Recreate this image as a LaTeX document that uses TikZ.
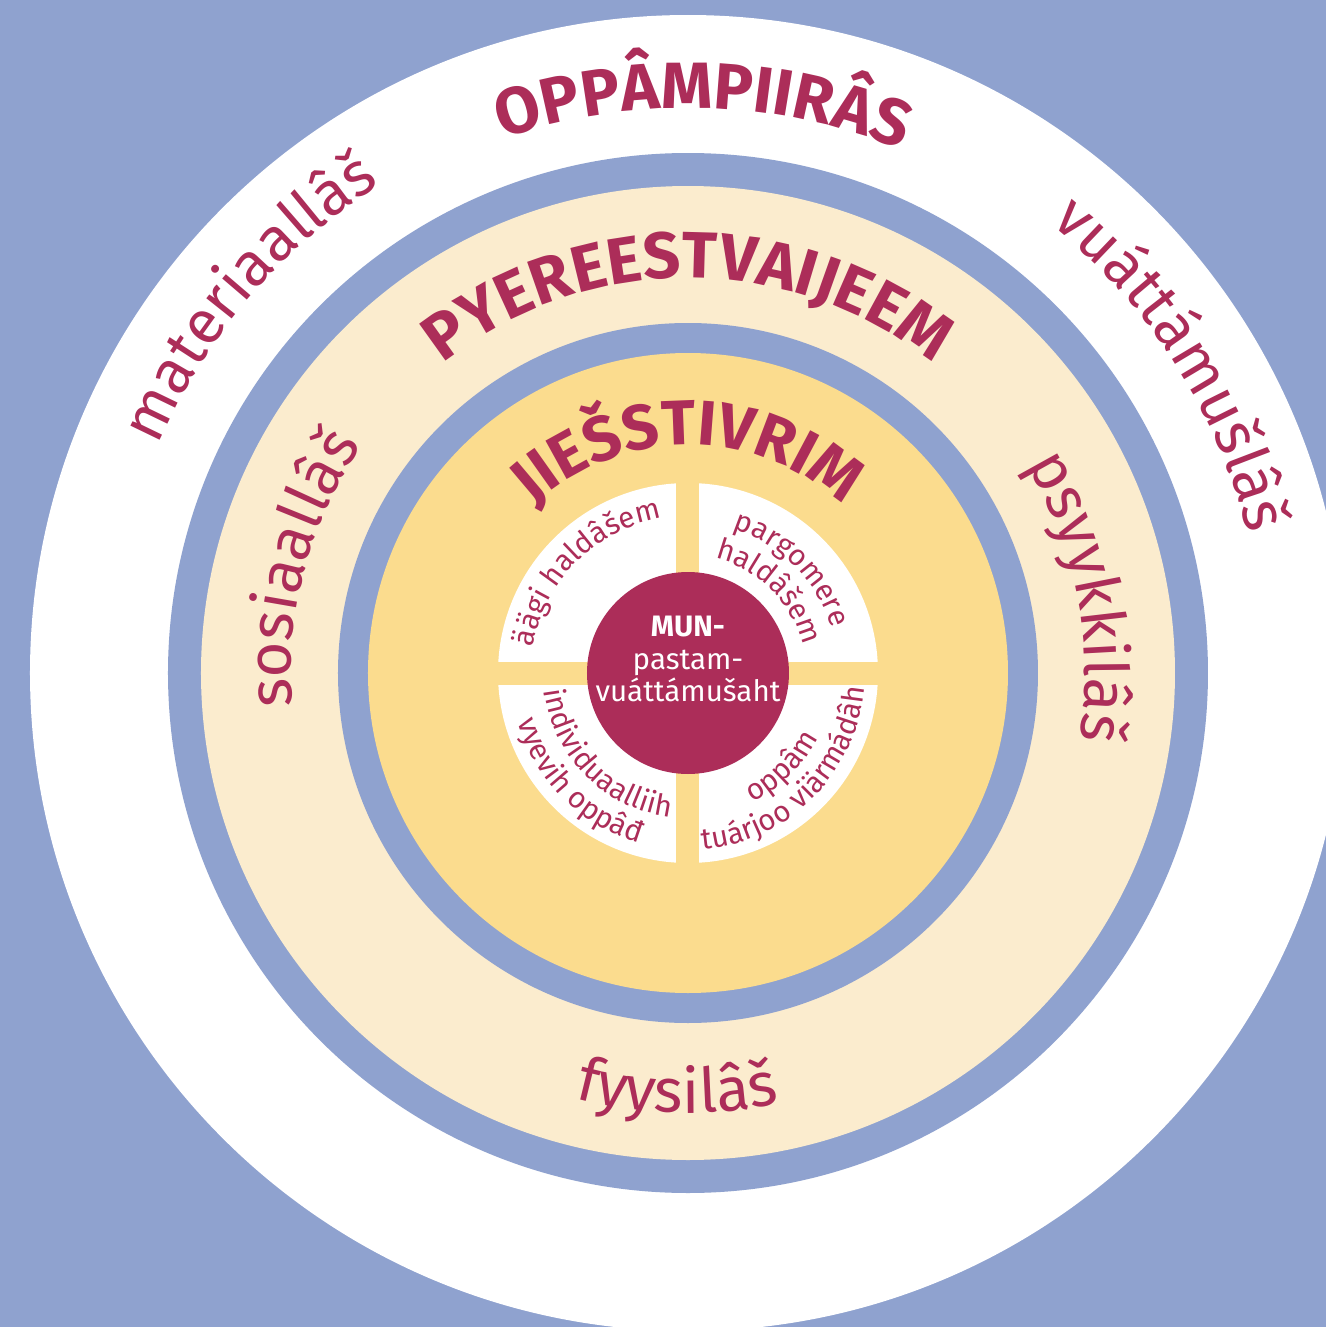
\documentclass[tikz,border=0pt]{standalone}
\usepackage{fontspec}
\setmainfont{Fira Sans}
\usetikzlibrary{decorations.text}
\definecolor{ringblue}{HTML}{8FA2CF}
\definecolor{cream}{HTML}{FBECCE}
\definecolor{sun}{HTML}{FBDC8E}
\definecolor{berry}{HTML}{AC2D59}
\newcommand{\titlefont}{\fontsize{18.6}{22}\selectfont\bfseries}
\newcommand{\innerfont}{\fontsize{18}{22}\selectfont\bfseries}
\newcommand{\wordfont}{\fontsize{17.5}{21}\selectfont}
\newcommand{\quarterfont}{\fontsize{8.4}{10}\selectfont}
\newcommand{\munfont}{\fontsize{8.4}{9.25}\selectfont}

\begin{document}
\begin{tikzpicture}[
    ringtext/.style={decorate, decoration={text along path, text align=center, text color=berry, text={#1}}}
]
    % Frame
    \useasboundingbox (-6.88,-6.54) rectangle (6.38,6.73);
    \clip (-6.88,-6.54) rectangle (6.38,6.73);
    \fill[ringblue] (-6.88,-6.54) rectangle (6.38,6.73);

    % Rings
    \foreach \r/\col in {6.58/white, 5.20/ringblue, 4.87/cream, 3.50/ringblue, 3.20/sun, 1.90/white} {
        \fill[\col] (0,0) circle (\r);
    }
    \fill[sun] (-0.115,-1.95) rectangle (0.115,1.95);
    \fill[sun] (-1.95,-0.115) rectangle (1.95,0.115);
    \fill[berry] (0,0) circle (1.01);

    % Centre
    \node[text=white, align=center, font=\munfont] (mun) at (0,0.14) {\textbf{MUN-}\\pastam-\\vuáttámušaht};

    % Titles
    \path[ringtext={|\titlefont|OPPÂMPIIRÂS}] (148.5:5.65) arc[start angle=148.5, end angle=28.5, radius=5.65];
    \path[ringtext={|\titlefont|PYEREESTVAIJEEM}] (150:3.95) arc[start angle=150, end angle=30, radius=3.95];
    \path[ringtext={|\innerfont|JIEŠSTIVRIM}] (160:2.28) arc[start angle=160, end angle=20, radius=2.28];

    % Outer words
    \path[ringtext={|\wordfont|materiaallâš}] (189.5:5.77) arc[start angle=189.5, end angle=89.5, radius=5.77];
    \path[ringtext={|\wordfont|vuáttámušlâš}] (82.5:5.77) arc[start angle=82.5, end angle=-17.5, radius=5.77];
    \path[ringtext={|\wordfont|sosiaallâš}] (215:3.97) arc[start angle=215, end angle=115, radius=3.97];
    \path[ringtext={|\wordfont|psyykkilâš}] (61:3.97) arc[start angle=61, end angle=-39, radius=3.97];
    \path[ringtext={|\wordfont|fyysilâš}] (218.5:4.40) arc[start angle=218.5, end angle=318.5, radius=4.40];

    % Quarters
    \path[ringtext={|\quarterfont|äägi haldâšem}] (185:1.57) arc[start angle=185, end angle=85, radius=1.57];
    \path[ringtext={|\quarterfont|pargomere}] (95:1.51) arc[start angle=95, end angle=-5, radius=1.51];
    \path[ringtext={|\quarterfont|haldâšem}] (95:1.18) arc[start angle=95, end angle=-5, radius=1.18];
    \path[ringtext={|\quarterfont|individuaalliih}] (175:1.45) arc[start angle=175, end angle=275, radius=1.45];
    \path[ringtext={|\quarterfont|vyevih oppâđ}] (175:1.77) arc[start angle=175, end angle=275, radius=1.77];
    \path[ringtext={|\quarterfont|oppâm}] (265:1.45) arc[start angle=265, end angle=365, radius=1.45];
    \path[ringtext={|\quarterfont|tuárjoo viärmádâh}] (265:1.77) arc[start angle=265, end angle=365, radius=1.77];
\end{tikzpicture}
\end{document}
